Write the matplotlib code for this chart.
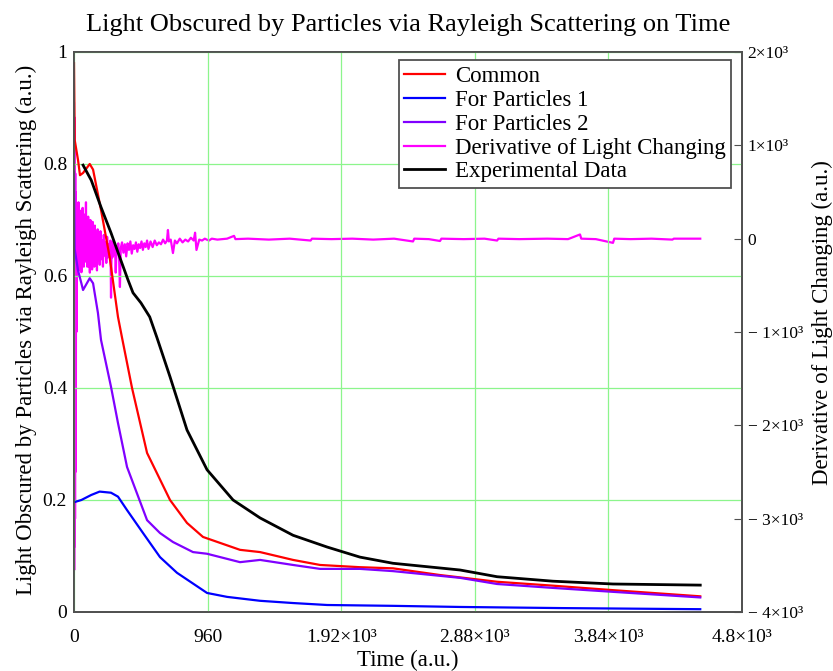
import numpy as np
import matplotlib.pyplot as plt
from matplotlib.ticker import FixedLocator, FixedFormatter

plt.rcParams['font.family'] = ['Liberation Serif', 'DejaVu Serif']

# --- data (time in a.u.) ---
common_t = [0, 5, 29, 43, 65, 113, 137, 194, 256, 316, 345, 417, 525, 690, 812, 927,
            1193, 1337, 1574, 1768, 2055, 2292, 2630, 3040, 3442, 3873, 4500]
common_v = [0.98, 0.843, 0.807, 0.78, 0.784, 0.80, 0.79, 0.718, 0.634, 0.527, 0.49, 0.40,
            0.284, 0.20, 0.159, 0.134, 0.111, 0.107, 0.093, 0.084, 0.080, 0.078, 0.066,
            0.054, 0.047, 0.039, 0.028]

p1_t = [0, 53, 124, 184, 266, 316, 381, 496, 618, 740, 956, 1100, 1337, 1574, 1819,
        2292, 2774, 3500, 4500]
p1_v = [0.196, 0.200, 0.209, 0.215, 0.213, 0.206, 0.182, 0.141, 0.098, 0.070, 0.034,
        0.027, 0.020, 0.016, 0.0125, 0.011, 0.009, 0.007, 0.005]

p2_t = [0, 5, 29, 53, 65, 113, 137, 172, 194, 266, 316, 381, 525, 618, 711, 855, 956,
        1193, 1337, 1574, 1768, 2055, 2292, 2774, 3040, 3442, 3873, 4500]
p2_v = [0.785, 0.648, 0.61, 0.587, 0.575, 0.596, 0.587, 0.534, 0.486, 0.402, 0.3375,
        0.259, 0.164, 0.141, 0.125, 0.107, 0.104, 0.089, 0.093, 0.084, 0.077, 0.077,
        0.073, 0.061, 0.050, 0.043, 0.036, 0.026]

exp_t = [65, 124, 194, 266, 328, 388, 424, 481, 544, 596, 690, 812, 956, 1143, 1337,
         1574, 1819, 2055, 2292, 2774, 3040, 3442, 3873, 4500]
exp_v = [0.798, 0.771, 0.723, 0.677, 0.634, 0.593, 0.57, 0.552, 0.527, 0.49, 0.42, 0.325,
         0.254, 0.20, 0.168, 0.137, 0.116, 0.098, 0.087, 0.075, 0.063, 0.055, 0.050, 0.048]

# derivative (right axis), noisy at the start
deriv_t = [0, 1.5, 3, 4.5, 6, 7.5, 9, 10.5, 12, 13.5, 15, 17,
           20, 23, 26, 29, 32, 35, 38, 41, 44, 47, 50, 53, 56, 59, 62, 65, 68, 71, 74, 77,
           80, 83, 86, 89, 92, 95, 98,
           102, 106, 110, 114, 118, 122, 126, 130, 134, 138, 142, 146, 150, 155, 160, 165,
           170, 175, 180, 185, 190, 196, 202, 208, 214, 220, 226, 232, 238, 244, 250, 256,
           262, 266, 270, 276, 282, 288, 294, 300, 306, 312, 318, 324, 330, 336,
           345, 355, 365, 375, 385, 395, 405, 415, 425, 435, 445, 455, 465, 475, 485, 495,
           505, 515, 525, 535,
           550, 565, 580, 595, 610, 625, 640, 655, 668, 675, 682, 695, 711, 725, 740, 760,
           780, 800, 820, 840, 860, 870, 880, 900, 920, 940, 955, 970, 990,
           1030, 1100, 1150, 1160, 1250, 1400, 1550, 1700, 1710, 1850, 2000, 2150, 2300,
           2436, 2445, 2550, 2630, 2640, 2800, 2950, 3040, 3050, 3200, 3400, 3550, 3636,
           3645, 3750, 3873, 3882, 4000, 4150, 4300, 4310, 4450, 4500]
deriv_v = [1450, -3550, 1300, -3300, 1000, -3000, 700, -2500, 500, -1800, 390, -1000,
           350, -360, 280, -300, 390, -250, 200, -340, 300, -200, 250, -360, 150, -280, 330,
           -150, 200, -300, 120, -250, 260, -180, 390, -220, 150, -300, 100,
           236, -300, 150, -364, 200, -250, 100, -330, 180, -200, 60, -300, 140, -250, 50,
           -340, 100, -200, 0, -280, 80, -220, -20, -300, 40, -180, -40, -260, 20, -200,
           -60, -150, -20, -632, -80, -200, -30, -170, -60, -364, -90, -150, -50, -200,
           -518, -100,
           -40, -150, -60, -190, -50, -120, -30, -160, -70, -110, -40, -140, -60, -100, -30,
           -120, -50, -90, -20, -110,
           -30, -90, -20, -70, -40, -60, -10, -50, -20, 93, -30, -10, -154, -20, -50, 0,
           -40, -10, -30, 10, -20, 64, -121, -10, -20, 0, -11, -20, 0,
           -10, 0, 30, -5, 0, -10, 0, -20, 0, -5, 0, -10, 0, -30, 0, -5, -25, 0, -5, 0,
           -20, 0, -5, 0, -5, 45, 0, -5, -45, 0, -5, 0, -10, 0, 0, 0]

x_ticks = [0, 960, 1920, 2880, 3840, 4800]
x_labels = ['0', '960', '1.92×10³', '2.88×10³', '3.84×10³', '4.8×10³']
y_ticks = [0, 0.2, 0.4, 0.6, 0.8, 1.0]
y_labels = ['0', '0.2', '0.4', '0.6', '0.8', '1']
y2_ticks = [-4000, -3000, -2000, -1000, 0, 1000, 2000]
y2_labels = ['− 4×10³', '− 3×10³', '− 2×10³', '− 1×10³', '0', '1×10³', '2×10³']

fig = plt.figure(figsize=(8.33, 6.71), dpi=100)
ax = fig.add_axes([74 / 833, 59 / 671, 668 / 833, 560 / 671])
ax2 = ax.twinx()
ax.set_zorder(ax2.get_zorder() + 1)
ax.patch.set_visible(False)

edge = '#505050'
lw = 1.6

h4, = ax2.plot(deriv_t, deriv_v, color='#ff00ff', lw=lw, label='Derivative of Light Changing')
h1, = ax.plot(common_t, common_v, color='#ff0000', lw=lw, label='Common')
h2, = ax.plot(p1_t, p1_v, color='#0000ff', lw=lw, label='For Particles 1')
h3, = ax.plot(p2_t, p2_v, color='#8000ff', lw=lw, label='For Particles 2')
h5, = ax.plot(exp_t, exp_v, color='black', lw=2.0, label='Experimental Data')

ax.set_xlim(0, 4800)
ax.set_ylim(0, 1)
ax2.set_ylim(-4000, 2000)

ax.xaxis.set_major_locator(FixedLocator(x_ticks))
ax.xaxis.set_major_formatter(FixedFormatter(x_labels))
ax.yaxis.set_major_locator(FixedLocator(y_ticks))
ax.yaxis.set_major_formatter(FixedFormatter(y_labels))
ax2.yaxis.set_major_locator(FixedLocator(y2_ticks))
ax2.yaxis.set_major_formatter(FixedFormatter(y2_labels))

ax.grid(True, color='#8cf58c', lw=0.9)
ax.tick_params(axis='both', length=0, labelsize=14, pad=5)
ax.tick_params(axis='x', pad=12)
ax2.tick_params(axis='y', direction='in', length=6, color=edge, labelsize=12.5, pad=4)

for a in (ax, ax2):
    for s in a.spines.values():
        s.set_color(edge)
        s.set_linewidth(1.3)

ax.set_title('Light Obscured by Particles via Rayleigh Scattering on Time',
             fontsize=19, pad=15)
ax.set_xlabel('Time (a.u.)', fontsize=16.5, labelpad=3)
ax.set_ylabel('Light Obscured by Particles via Rayleigh Scattering (a.u.)', fontsize=16.5)
ax.yaxis.set_label_coords(-0.055, 0.503)
ax2.set_ylabel('Derivative of Light Changing (a.u.)', fontsize=16.5)
ax2.yaxis.set_label_coords(1.105, 0.516)

leg = ax.legend(handles=[h1, h2, h3, h4, h5], loc='upper right',
                bbox_to_anchor=(0.984, 0.985), borderaxespad=0, fontsize=16.5,
                fancybox=False, framealpha=1, edgecolor=edge, handlelength=1.75,
                handletextpad=0.45, labelspacing=0.12, borderpad=0.25)
leg.get_frame().set_linewidth(1.3)

fig.savefig('out.png', dpi=100)
